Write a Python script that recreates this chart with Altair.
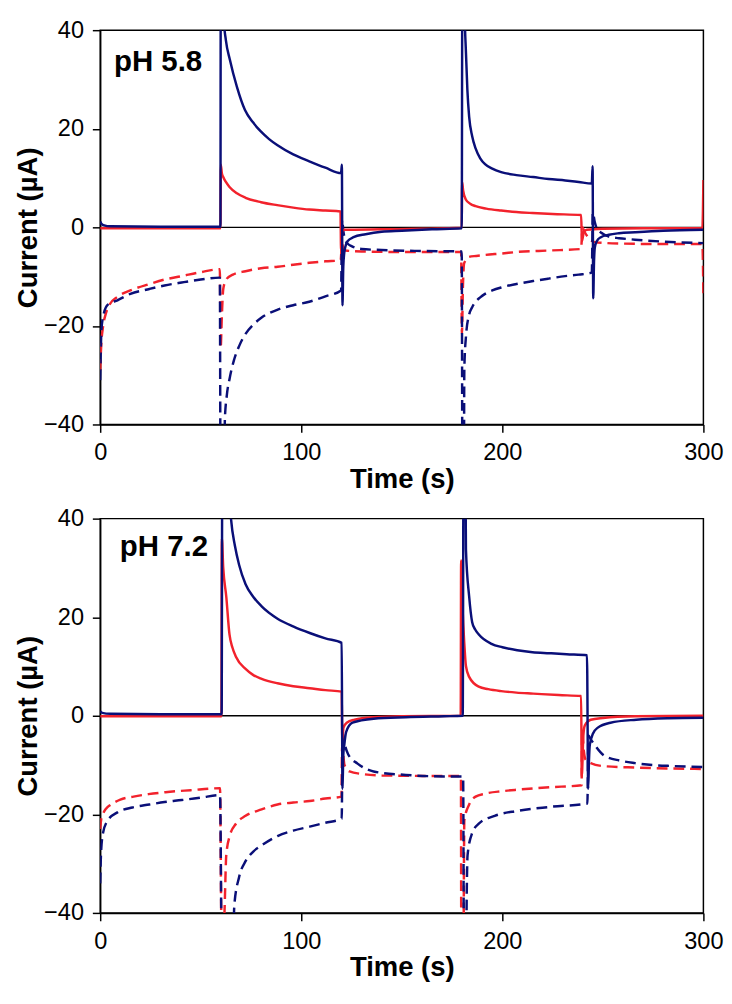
import altair as alt
import pandas as pd

NAVY = "#0a0f78"
RED = "#f2222c"

# ---------------- pH 5.8 (top panel) ----------------
A_NS_T = [0, 0.5, 2, 5, 30, 59.8, 60.0, 60.4, 61.5, 62.5, 64.5, 68, 72, 76, 80, 84, 88, 96, 104, 112, 119.8,
          120.2, 120.5, 120.9, 121.5, 123, 126, 132, 140, 150, 165, 179.8, 180.2, 180.6, 181.2, 181.9,
          182.6, 183.5, 185, 186.7, 189, 191.4, 195, 199.4, 207, 215.3, 223, 231.3, 238, 244.5, 244.9,
          245.2, 245.6, 246, 247, 249, 253, 258, 266, 280, 300]
A_NS_V = [1.2, 0.8, 0.4, 0.2, 0.1, 0.1, 70, 70, 42, 38, 34, 28.5, 23.8, 21.3, 19.4, 17.9, 16.7, 14.8, 13.4, 12.1, 11.0,
          12.7, -15.8, -8, -4.8, -2.8, -2.0, -1.4, -0.9, -0.7, -0.4, -0.2, 70, 70, 45, 35.5,
          28, 22.4, 18.5, 16, 14, 12.8, 11.9, 11.2, 10.6, 10.2, 9.8, 9.5, 9.2, 8.9, 12.4,
          -14.4, -7, -4.1, -2.8, -2.0, -1.5, -1.2, -1.0, -0.7, -0.5]

A_RS_T = [0, 30, 59.8, 60.0, 60.5, 61.2, 62.5, 64.3, 68, 72.3, 80, 88, 96, 104, 112, 119.5, 119.8, 120.3,
          121, 140, 160, 179.8, 180.0, 180.5, 181.9, 184, 186.7, 192, 199.4, 207, 215, 225, 239.2, 239.6,
          240.5, 242, 250, 270, 299.5, 300]
A_RS_V = [-0.2, -0.2, -0.2, 12.7, 11, 10.2, 9.2, 8.2, 6.9, 6.0, 5.1, 4.5, 4.0, 3.6, 3.4, 3.2, -4.8, -1.0,
          -0.5, -0.4, -0.3, -0.1, 9.2, 7.5, 5.6, 4.8, 4.3, 3.8, 3.4, 3.1, 2.9, 2.7, 2.5, -2.8,
          -1.0, -0.5, -0.3, -0.2, -0.2, 9.6]

A_ND_T = [0, 0.3, 0.6, 1.5, 3.8, 8.6, 15, 24.5, 32, 40.5, 50, 59.5, 59.9, 61.5, 62, 63, 64.4, 66.5, 69.1,
          72.3, 76, 80.3, 88.3, 96, 104, 112, 119.8, 120.3, 121, 121.8, 123, 125, 130, 140, 160, 179.8,
          180.2, 180.8, 181.1, 181.9, 183.5, 185, 186.7, 189, 191.4, 195, 199.4, 207, 215.3, 223, 231.2,
          238, 244.5, 245, 246, 247, 250, 253, 258, 266, 280, 300]
A_ND_V = [-31, -25, -20.9, -18, -15.7, -14.8, -13.5, -12.5, -11.8, -11.2, -10.6, -10.2, -60, -60, -39, -34,
          -30.6, -27, -24.1, -21.6, -19.8, -18.3, -16.7, -15.8, -15.1, -14, -12.8, 1.5, -1.0, -2.5, -3.3,
          -3.8, -4.4, -4.6, -4.8, -4.9, -60, -60, -28.7, -22.2, -17.7, -16.2, -15.1, -14.2, -13.5, -12.8,
          -12.2, -11.5, -10.9, -10.4, -9.9, -9.6, -9.2, 3, 1, -0.2, -1.3, -1.9, -2.2, -2.5, -2.9, -3.2]

A_RD_T = [0, 0.5, 1.4, 2.8, 4.6, 8.6, 15, 24.5, 32, 40.5, 50, 59.5, 59.9, 60.5, 61.2, 62.8, 66, 72.3, 80,
          88.3, 96, 104, 112, 119.6, 120.2, 121, 122, 130, 150, 179.5, 179.9, 180.4, 181, 183.5, 187,
          191.4, 200, 207.4, 223.3, 239.2, 239.8, 241, 243, 246, 252, 260, 280, 299.5, 300]
A_RD_V = [-29, -24, -20.2, -17.5, -15.7, -14.1, -12.8, -11.5, -10.6, -9.9, -9.1, -8.5, -24.5, -18, -12.5,
          -10.5, -9.6, -8.9, -8.3, -8.0, -7.6, -7.2, -6.9, -6.7, -3.4, -4.2, -4.7, -4.9, -5.0, -5.0, -21.6,
          -12, -7.3, -6.0, -5.8, -5.6, -5.3, -5.0, -4.7, -4.4, 0, -1.0, -2.2, -3.0, -3.2, -3.3, -3.4,
          -3.4, -14]

# ---------------- pH 7.2 (bottom panel) ----------------
B_NS_T = [0, 1, 5, 30, 60.4, 60.8, 62, 63.5, 65.1, 67, 69.1, 72.3, 76, 80.3, 88.2, 96.2, 104.2, 112, 120.1,
          120.5, 120.9, 121.4, 122.3, 125.5, 136, 152, 171, 180.3, 180.8, 181.3, 181.9, 183.5, 185, 186.5,
          188.3, 194.6, 200, 207.4, 215, 223.3, 232, 242.1, 242.7, 243.1, 243.5, 245.1, 247.5, 253.8, 266.6,
          282.5, 300]
B_NS_V = [0.9, 0.6, 0.4, 0.3, 0.3, 70, 70, 50, 39.8, 34.5, 30.6, 26.7, 24.2, 22.2, 19.7, 18.1, 16.8, 15.7,
          14.8, -14.8, -8, -5.9, -3.3, -1.4, -0.6, -0.3, -0.1, 0, 70, 70, 33.8, 24.2, 19, 17.5,
          16.5, 14.6, 13.9, 13.3, 12.9, 12.7, 12.5, 12.3, -14.8, -9, -5.9, -3.6, -2.4, -1.4, -0.8,
          -0.5, -0.4]

B_RS_T = [0, 60.3, 60.5, 61.2, 62.7, 64.3, 65.8, 67.5, 72.3, 76, 80.3, 88.2, 96, 104.2, 112, 120.1, 120.4,
          121, 122.6, 126.5, 136, 150, 179.3, 179.5, 180.2, 181.1, 181.9, 183.5, 188.3, 193, 199.4, 207,
          215.3, 228, 239.2, 239.5, 240.3, 241, 244, 250, 266, 300]
B_RS_V = [-0.1, -0.1, 36, 30, 24.2, 16.5, 13.8, 12, 9.5, 8.3, 7.5, 6.6, 6.0, 5.6, 5.2, 4.9, -5,
          -2.4, -1.4, -0.8, -0.3, -0.1, 0, 31.5, 22, 14.6, 10.1, 7.9, 5.9, 5.4, 5.0, 4.7,
          4.5, 4.2, 4.0, -12.3, -4, -2.0, -0.8, -0.45, -0.1, 0]

B_ND_T = [0, 0.4, 1.4, 3.8, 8.6, 16, 24.5, 32, 40.5, 50, 59.6, 60.7, 65.5, 66.7, 69.1, 72.3, 76, 80.3, 88.2,
          96, 104.2, 112, 120.1, 120.6, 121.5, 123.3, 128, 136, 152, 171, 180.5, 181, 181.8, 182.3,
          182.7, 185, 188.3, 196.2, 207.4, 223.3, 242.3, 242.8, 244, 245.9, 250.7, 258.6, 266, 274.6, 285,
          300]
B_ND_V = [-34, -28, -23.8, -21.2, -19.6, -18.6, -18.0, -17.5, -17.1, -16.6, -16.1, -60, -60, -38.5, -32.7,
          -29.5, -27.6, -26.3, -24.4, -23.3, -22.5, -21.7, -20.9, -3.5, -5.5, -7.8, -9.7, -11.3, -12.0,
          -12.3, -12.3, -60, -60, -36, -28.3, -23.8, -21.9, -20.3, -19.3, -18.5, -17.8, -4, -4.8, -5.9,
          -8.1, -9.1, -9.6, -10.0, -10.2, -10.4]

B_RD_T = [0, 0.5, 1.4, 3, 5.4, 10, 16.6, 24, 32.5, 45, 59.6, 60.3, 61.5, 62.7, 64.4, 67.5, 72.3, 80.3, 88.2,
          96, 104.2, 112, 120, 120.3, 121.5, 124, 130, 140, 160, 179.4, 179.6, 180.6, 181.1, 183.5, 186.7,
          191.4, 200, 207.4, 223.3, 239.4, 239.7, 240.5, 241.5, 244, 250, 266, 285, 300]
B_RD_V = [-23, -21, -19.9, -18.8, -18.0, -17.0, -16.4, -15.9, -15.5, -15.1, -14.7, -42, -42, -28.3, -24.4,
          -21.9, -20.3, -19.0, -18.0, -17.6, -17.3, -16.8, -16.4, -6, -10, -11.3, -11.8, -12.1, -12.2,
          -12.2, -50, -50, -21.2, -18, -16.4, -15.8, -15.3, -15.0, -14.5, -14.1, -3, -7, -9.0, -9.6,
          -10.2, -10.5, -10.7, -10.8]

X_TICKS = [0, 100, 200, 300]
Y_TICKS = [-40, -20, 0, 20, 40]

STYLES = {
    "red_dashed": (RED, [11, 6]),
    "navy_dashed": (NAVY, [11, 6]),
    "red_solid": (RED, None),
    "navy_solid": (NAVY, None),
}

W, H = 615, 402


def frame(series):
    rows = []
    for name, ts, vs in series:
        for i, (t, v) in enumerate(zip(ts, vs)):
            rows.append({"series": name, "t": t, "v": v, "i": i})
    return pd.DataFrame(rows)


x_enc = alt.X("t:Q", scale=alt.Scale(domain=[0, 300], nice=False),
              axis=alt.Axis(values=X_TICKS, title="Time (s)", labelFlush=False))
y_enc = alt.Y("v:Q", scale=alt.Scale(domain=[-40, 40], nice=False),
              axis=alt.Axis(values=Y_TICKS, title="Current (µA)"))


def panel(df, label, lx, ly):
    layers = [alt.Chart(pd.DataFrame({"v": [0]})).mark_rule(color="black", strokeWidth=1.4).encode(y=y_enc)]
    for name in ["red_dashed", "navy_dashed", "red_solid", "navy_solid"]:
        color, dash = STYLES[name]
        kw = dict(color=color, strokeWidth=2.5, clip=True, interpolate="monotone")
        if dash:
            kw["strokeDash"] = dash
        layers.append(
            alt.Chart(df).transform_filter(alt.datum.series == name)
            .mark_line(**kw)
            .encode(x=x_enc, y=y_enc, order=alt.Order("i:Q"))
        )
    layers.append(
        alt.Chart(pd.DataFrame({"label": [label]}))
        .mark_text(align="left", baseline="alphabetic", fontSize=30, fontWeight="bold",
                   font="Liberation Sans", color="black")
        .encode(x=alt.value(lx), y=alt.value(ly), text="label:N")
    )
    return alt.layer(*layers).properties(width=W, height=H)


top_df = frame([("navy_solid", A_NS_T, A_NS_V), ("red_solid", A_RS_T, A_RS_V),
                ("navy_dashed", A_ND_T, A_ND_V), ("red_dashed", A_RD_T, A_RD_V)])
bot_df = frame([("navy_solid", B_NS_T, B_NS_V), ("red_solid", B_RS_T, B_RS_V),
                ("navy_dashed", B_ND_T, B_ND_V), ("red_dashed", B_RD_T, B_RD_V)])

chart = alt.vconcat(
    panel(top_df, "pH 5.8", 14, 42),
    panel(bot_df, "pH 7.2", 20, 38),
    spacing=12,
).properties(padding={"left": 6, "top": 0, "right": 0, "bottom": 0}).configure_axis(
    labelFont="Liberation Sans", labelFontSize=24, labelColor="black",
    titleFont="Liberation Sans", titleFontSize=28, titleFontWeight="bold", titleColor="black",
    domainColor="black", domainWidth=1.5, tickColor="black", tickWidth=1.5, tickSize=8,
    labelPadding=9, titlePadding=1, grid=False,
).configure_view(stroke="black", strokeWidth=1.5)

chart.save("out.html", embed_options={"renderer": "svg", "actions": False})
